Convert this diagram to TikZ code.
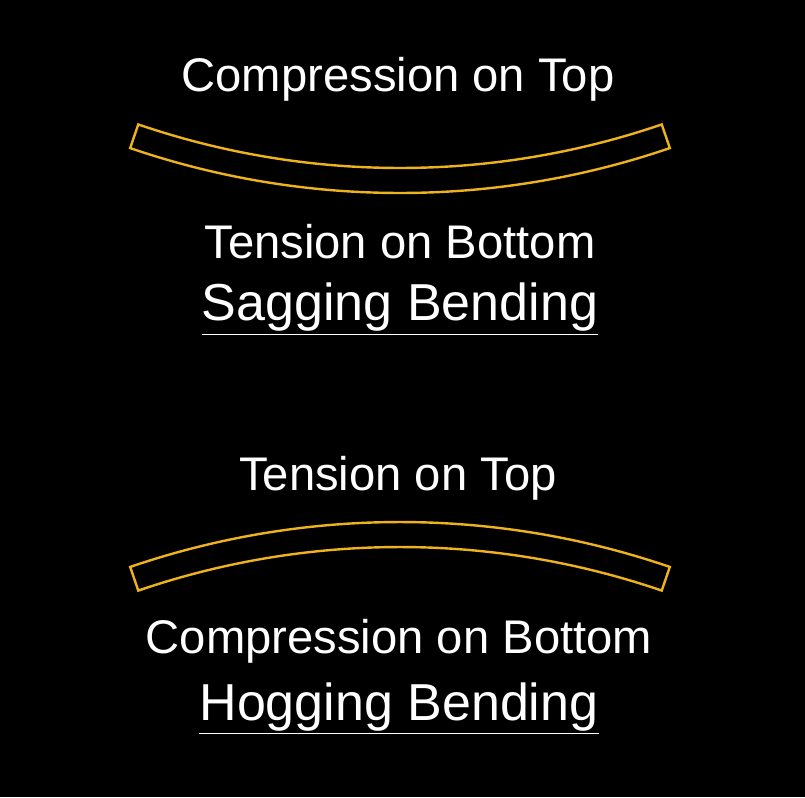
\documentclass[tikz,border=0pt]{standalone}
\usepackage{fontspec}
\setmainfont{Liberation Sans}
\usepackage{tikz}
\definecolor{beamgold}{RGB}{238,178,28}

\begin{document}
\begin{tikzpicture}[x=0.75pt, y=-0.75pt,
    beam/.style={draw=beamgold, line width=1.8pt, line join=miter},
    label/.style={text=white, anchor=base, inner xsep=0pt, font=\fontsize{35.4}{40}\selectfont},
    title/.style={text=white, anchor=base, inner xsep=0pt, font=\fontsize{39}{45}\selectfont},
    rule/.style={draw=white, line width=1pt}]
      \fill[black] (0,0) rectangle (805,797);
      \useasboundingbox (0,0) rectangle (805,797);
      % sagging beam
      \coordinate (sagc) at (400,-640);
      \node[label](comptop)  at (398,91) {Compression on Top};
      \draw[beam] (sagc) ++(71.1:808) arc[start angle=71.1, end angle=108.9, radius=808]
            -- ++(108.9:25) arc[start angle=108.9, end angle=71.1, radius=833] -- cycle;
      \node[label](tensbot)  at (400,258) {Tension on Bottom};
      \node[title](sagtitle)  at (400,320) {Sagging Bending};
      \draw[rule] ([yshift=-11pt]sagtitle.base west) -- ([yshift=-11pt]sagtitle.base east);
      % hogging beam
      \coordinate (hogc) at (400,1355);
      \node[label](tenstop)  at (398,490) {Tension on Top};
      \draw[beam] (hogc) ++(251.1:808) arc[start angle=251.1, end angle=288.9, radius=808]
            -- ++(288.9:25) arc[start angle=288.9, end angle=251.1, radius=833] -- cycle;
      \node[label](compbot)  at (399,653) {Compression on Bottom};
      \node[title](hogtitle)  at (399,720) {Hogging Bending};
      \draw[rule] ([yshift=-10pt]hogtitle.base west) -- ([yshift=-10pt]hogtitle.base east);
\end{tikzpicture}
\end{document}
